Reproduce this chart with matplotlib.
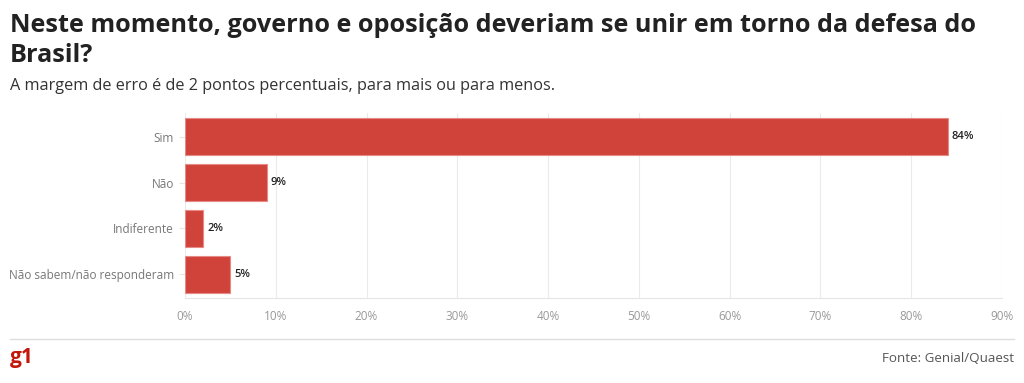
import matplotlib.pyplot as plt

# data
categories = ['Sim', 'Não', 'Indiferente', 'Não sabem/não responderam']
values = [84, 9, 2, 5]
xticks = [0, 10, 20, 30, 40, 50, 60, 70, 80, 90]

base = 'Open Sans'

fig = plt.figure(figsize=(10.24, 3.83), dpi=100)
ax = fig.add_axes([185/1024, 1-298/383, 817/1024, 185/383])

bar_col = '#d0433a'
ax.barh(range(len(categories)), values, height=0.8, color=bar_col,
        edgecolor='#e88a84', linewidth=0.8, zorder=3)
for i, v in enumerate(values):
    ax.text(v + 0.45, i, '%d%%' % v, va='center', ha='left', fontsize=8,
            color='#222222', family=base, fontweight='semibold', zorder=4)

ax.set_ylim(3.52, -0.52)
ax.set_xlim(0, 90)
ax.set_yticks(range(len(categories)))
ax.set_yticklabels(categories, family=base, fontsize=8.5, color='#777777')
ax.set_xticks(xticks)
ax.set_xticklabels(['%d%%' % t for t in xticks], family=base, fontsize=8.5,
                   color='#999999')
ax.tick_params(axis='y', length=4, color='#e6e6e6', pad=4)
ax.tick_params(axis='x', length=0, pad=9)
ax.grid(axis='x', color='#ebebeb', linewidth=0.8, zorder=0)
for s in ['top', 'right', 'left']:
    ax.spines[s].set_visible(False)
ax.spines['bottom'].set_color('#e6e6e6')

fig.text(10/1024, 1-25/383, 'Neste momento, governo e oposição deveriam se unir em torno da defesa do',
         family=base, fontweight='bold', fontsize=18.2, color='#222222', va='center')
fig.text(10/1024, 1-56/383, 'Brasil?',
         family=base, fontweight='bold', fontsize=18.2, color='#222222', va='center')
fig.text(10/1024, 1-86/383, 'A margem de erro é de 2 pontos percentuais, para mais ou para menos.',
         family=base, fontsize=11.7, color='#333333', va='center')

fig.add_artist(plt.Line2D([10/1024, 1014/1024], [1-339/383, 1-339/383],
                          color='#dddddd', linewidth=1))
fig.text(10/1024, 1-357/383, 'g1', family=base, fontweight='bold', fontsize=15,
         color='#c4170c', va='center')
fig.text(1014/1024, 1-359/383, 'Fonte: Genial/Quaest', family=base, fontsize=9.6,
         color='#555555', va='center', ha='right')

fig.savefig('out.png', dpi=100)
